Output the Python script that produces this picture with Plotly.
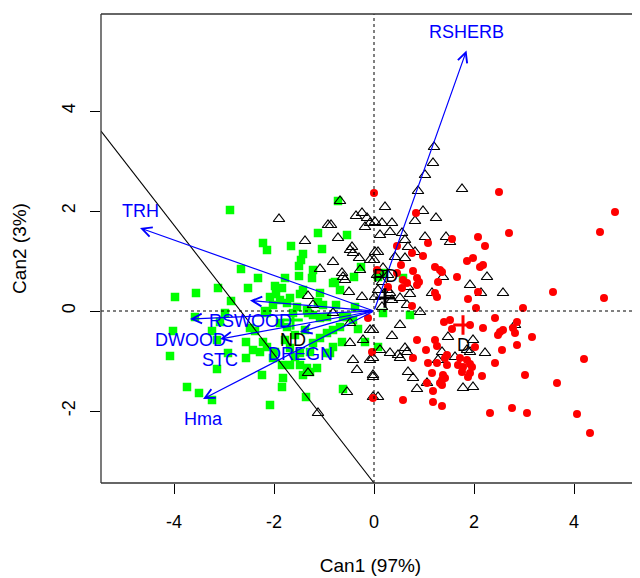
import plotly.graph_objects as go

# ---------------- data (canonical scores) ----------------
nd_x = [-2.88, -0.72, -1.12, -0.54, -2.22, -2.14, -1.66, -1.04, -2.66, -2.32, -3.12, -3.56, -3.98, -2.52,
        -2.86, -2.98, -3.58, -2.18, -1.42, -1.46, -1.50, -1.22, -1.50, -1.78, -1.24, -1.98, -1.84, -1.96,
        -0.78, -0.40, -0.26, -1.42, -1.48, -1.08, -0.68, -1.68, -2.08, -2.02, -1.12, -1.02, -0.76, -0.38,
        -2.14, -1.62, -1.32, -0.94, -0.62, -4.02, -4.08, -3.24, -3.14, -2.92, -3.14, -3.74, -3.50, -3.24,
        -2.56, -2.56, -2.42, -2.28, -2.48, -2.38, -2.22, -1.98, -2.02, -2.24, -1.84, -1.68, -1.82, -1.84,
        -2.08, -1.48, -1.34, -1.42, -1.36, -0.62, -0.94, -0.82, -0.64, -0.32, -0.18, 0.08, -0.82, -1.74,
        -1.88, -2.14, -1.22, -1.08, -0.94, -0.82, -0.68, -1.48, -1.88, -1.74, -1.54, -1.34, -1.22, -1.08,
        -0.54, -0.42, -1.14, -1.28, -1.68, 0.18, 0.08, 0.58, 0.18, 0.72, -3.08, -0.88, -1.58, -1.38,
        -1.78, -1.28, -1.58]
nd_y = [2.02, 2.20, 1.56, 1.52, 1.36, 1.22, 1.30, 1.24, 0.84, 0.66, 0.46, 0.36, 0.28, 0.46,
        0.20, -0.04, -0.12, 0.00, 1.14, 1.02, 0.90, 0.82, 0.70, 0.66, 0.66, 0.50, 0.46, 0.34,
        0.58, 0.68, 0.88, 0.42, 0.34, 0.36, 0.42, 0.26, 0.28, 0.12, 0.18, 0.12, 0.12, 0.08,
        -0.04, -0.04, -0.04, -0.12, -0.12, -0.40, -0.90, -0.40, -0.58, -0.84, -1.16, -1.52, -1.64, -1.78,
        -0.62, -0.94, -0.78, -0.82, -0.34, -0.40, -0.62, -0.82, -0.94, -1.28, -1.08, -1.08, -1.34, -1.52,
        -1.88, -1.08, -1.14, -1.28, -1.72, -1.56, -0.84, -0.72, -0.62, -0.36, -0.62, -0.72, 0.56, -0.32,
        -0.24, -0.72, -0.64, -0.54, -0.44, -0.38, -0.32, -0.84, 0.22, 0.16, 0.08, 0.02, -0.08, -0.14,
        -0.12, -0.18, -1.14, -1.22, -0.74, 0.76, 0.68, 0.66, -0.04, -0.08, -0.22, -0.84, -0.48, -0.38,
        -0.58, -0.82, -0.92]

pd_x = [-1.90, -1.38, -0.92, -0.86, -0.72, -0.68, -0.44, -0.36, -0.24, -0.18, -0.14, -0.08, 0.02, -0.48,
        -0.42, -0.30, -0.08, 0.02, -0.82, -1.08, -0.64, -0.62, -0.58, -0.28, -0.50, -0.24, -1.32, -1.22,
        -1.32, -0.54, -1.12, -0.48, -0.22, -0.08, -0.42, -0.34, -0.08, -0.02, -0.48, -0.82, 1.20, 1.18,
        1.02, 0.88, 1.76, 0.22, 0.98, 1.24, 0.82, 0.16, 0.36, 0.12, 0.32, 0.56, 1.02, 1.44, 1.52, 0.62,
        0.68, 0.82, 0.08, 0.42, 0.62, 0.00, 0.18, 0.06, 0.28, 0.16, 0.08, 0.02, 0.26, 0.32, 0.36, 0.52,
        0.66, 0.92, 0.72, 0.68, 1.38, 1.16, 1.92, 2.14, 2.26, 2.58, 0.16, -0.02, 0.52, 0.36, 0.12, 0.32,
        0.48, 0.52, 0.62, 0.66, 1.48, 1.98, 2.22, 1.86, 1.92, 1.36, 1.28, 1.62, 0.68, 0.78, 0.86, 1.06,
        1.78, 1.98, 2.82, -0.02, -0.02, -0.02, 0.08]
pd_y = [1.84, 1.40, 1.72, 1.72, 1.46, 2.20, 1.28, 1.90, 1.96, 1.68, 1.86, 1.76, 1.78, 1.22,
        1.16, 1.06, 1.02, 1.18, 0.98, 0.84, 0.76, 0.68, 0.62, 0.82, 0.38, 0.28, 0.30, 0.12,
        -1.24, -1.62, -2.04, -0.64, -0.58, -0.38, -0.98, -1.18, -0.98, -1.28, -0.24, -0.04, 3.28, 2.96,
        2.72, 2.40, 2.44, 2.08, 2.00, 1.86, 1.80, 1.76, 1.76, 1.52, 1.58, 1.56, 1.48, 1.48, 1.38, 1.42,
        1.28, 1.18, 1.18, 1.08, 1.06, 1.02, 0.86, 0.72, 0.72, 0.58, 0.42, 0.28, 0.42, 0.36, 0.22, 0.26,
        0.12, -0.02, 0.34, 0.48, 0.68, 0.36, 0.52, 0.36, 0.68, 0.36, 0.08, -0.38, -0.28, -0.50, -0.78, -0.84,
        -0.88, -0.94, -0.74, -0.82, -0.52, -0.58, -0.84, -0.78, -0.82, -0.82, -0.98, -0.92, -1.22, -1.34, -1.56, -1.44,
        -1.54, -1.52, -0.28, -0.94, -1.32, -1.72, -1.72]

d_x = [0.00, 2.50, 4.82, 4.52, 2.70, 2.08, 2.22, 1.08, 1.56, 0.84, 0.46, 0.76, 0.98, 1.86,
       1.98, 2.12, 2.18, 0.54, 1.22, 1.32, 1.36, 0.78, 1.66, 0.86, 0.90, 0.86, 1.28, 0.58,
       0.66, 0.46, 0.56, 1.22, 1.26, 2.08, 1.88, 0.76, 2.04, 2.42, 0.28, 2.98, 3.58, 4.60,
       1.40, 1.52, 1.56, 2.18, 1.92, 2.86, 2.78, 2.82, 2.48, 2.52, 2.58, 3.16, 0.86, 1.22,
       1.26, 1.04, 2.86, 2.56, 2.02, 1.46, 1.42, 0.78, 1.72, 1.86, 1.92, 1.96, 1.68, 1.78,
       1.76, 1.08, 1.26, 2.42, 1.46, 1.16, 1.38, 1.36, 1.32, 1.42, 1.36, 1.92, 2.16, 1.88,
       3.02, 4.20, 3.66, 1.06, 1.18, 0.58, 1.18, 1.36, 2.32, 2.76, 3.06, 4.06, 4.32, -0.02,
       -0.04, -0.12, 0.06]
d_y = [2.36, 2.38, 1.98, 1.58, 1.56, 1.48, 1.30, 1.36, 1.44, 1.96, 1.30, 1.16, 1.10, 1.00,
       1.06, 0.88, 0.92, 0.92, 0.88, 0.82, 0.78, 0.80, 0.68, 0.66, 0.58, 0.52, 0.58, 0.62,
       0.56, 0.76, 0.46, 0.36, 0.28, 0.38, 0.24, 0.10, 0.06, -0.14, 0.48, 0.06, 0.38, 0.26,
       -0.22, -0.18, -0.36, -0.34, -0.28, -0.22, -0.34, -0.44, -0.48, -0.42, -0.38, -0.52, -0.58, -0.58,
       -0.70, -0.78, -0.68, -0.78, -0.72, -0.88, -0.94, -0.94, -0.94, -0.98, -1.06, -1.12, -1.08, -1.12,
       -1.22, -1.04, -1.04, -1.04, -1.08, -1.24, -1.28, -1.38, -1.44, -1.34, -1.48, -1.24, -1.30, -1.32,
       -1.28, -0.96, -1.44, -1.44, -1.60, -1.78, -1.82, -1.90, -2.04, -1.94, -2.04, -2.06, -2.44, -1.74,
       -0.82, -0.14, 0.82]

# structure coefficients (variable vectors)
vec_names = ["TRH", "RSHERB", "RSWOOD", "DWOOD", "STC", "DREGN", "Hma"]
vec_x = [-4.68, 1.85, -2.48, -3.68, -3.08, -1.48, -3.42]
vec_y = [1.66, 5.21, 0.21, -0.16, -0.56, -0.42, -1.76]

# group centroids
group_names = ["ND", "PD", "D"]
cent_x = [-1.62, 0.22, 1.78]
cent_y = [-0.18, 0.26, -0.28]

# classification boundary
boundary_x = [-5.46, 0.0]
boundary_y = [3.60, -3.44]

x_ticks = [-4, -2, 0, 2, 4]
y_ticks = [-2, 0, 2, 4]
x_range = [-5.46, 5.32]
y_range = [-3.44, 5.94]

# ---------------- styles ----------------
FONT = "Liberation Sans, Arial, sans-serif"
GREEN = "#00FF00"
RED = "#FF0000"
BLUE = "#0000FF"
vec_label_shift = [17, 19, -20, -21, -21, -22, -20]
group_label_shift = [-20, 22, -20]
group_colors = [GREEN, "#000000", RED]

fig = go.Figure()

fig.add_trace(go.Scatter(x=nd_x, y=nd_y, mode="markers", name="ND",
                         marker=dict(symbol="square", size=8.5, color=GREEN, line=dict(width=0))))
fig.add_trace(go.Scatter(x=pd_x, y=pd_y, mode="markers", name="PD",
                         marker=dict(symbol="triangle-up-open", size=10, color="#000000",
                                     line=dict(width=1.2, color="#000000"))))
fig.add_trace(go.Scatter(x=d_x, y=d_y, mode="markers", name="D",
                         marker=dict(symbol="circle", size=8, color=RED, line=dict(width=0))))

# centroids
fig.add_trace(go.Scatter(x=cent_x, y=cent_y, mode="markers", name="centroids",
                         marker=dict(symbol="cross-thin-open", size=14, color=group_colors,
                                     line=dict(width=3, color=group_colors))))

# reference lines
fig.add_trace(go.Scatter(x=[0, 0], y=y_range, mode="lines",
                         line=dict(color="#000000", width=1, dash="dot")))
fig.add_trace(go.Scatter(x=x_range, y=[0, 0], mode="lines",
                         line=dict(color="#000000", width=1, dash="dot")))
fig.add_trace(go.Scatter(x=boundary_x, y=boundary_y, mode="lines",
                         line=dict(color="#000000", width=1.1)))

annotations = []
for name, vx, vy, sh in zip(vec_names, vec_x, vec_y, vec_label_shift):
    annotations.append(dict(x=vx, y=vy, ax=0, ay=0, xref="x", yref="y", axref="x", ayref="y",
                            text="", showarrow=True, arrowhead=5, arrowsize=1.6, arrowwidth=1.2,
                            arrowcolor=BLUE))
    annotations.append(dict(x=vx, y=vy, xref="x", yref="y", text=name, showarrow=False,
                            yshift=sh, font=dict(family=FONT, size=18, color=BLUE)))
for name, gx, gy, sh in zip(group_names, cent_x, cent_y, group_label_shift):
    annotations.append(dict(x=gx, y=gy, xref="x", yref="y", text=name, showarrow=False,
                            yshift=sh, font=dict(family=FONT, size=18, color="#000000")))

frame = dict(type="line", xref="paper", yref="paper", line=dict(color="#333333", width=1.3))
shapes = [dict(frame, x0=0, x1=0, y0=0, y1=1),
          dict(frame, x0=0, x1=1, y0=1, y1=1),
          dict(frame, x0=0, x1=1, y0=0, y1=0)]

# the page body adds an 8px offset, so the figure is sized 8px smaller on each side
fig.update_layout(
    width=632, height=570,
    margin=dict(l=93, r=0, t=6, b=95),
    paper_bgcolor="white", plot_bgcolor="white",
    showlegend=False,
    font=dict(family=FONT, size=18, color="#000000"),
    annotations=annotations,
    shapes=shapes,
    xaxis=dict(range=x_range, tickvals=x_ticks, ticktext=[str(v) for v in x_ticks],
               ticks="outside", ticklen=10, tickwidth=1,
               tickcolor="#000000", showgrid=False, zeroline=False, showline=False,
               ticklabelstandoff=12, tickfont=dict(size=18), automargin=False,
               title=dict(text="Can1 (97%)", font=dict(size=19), standoff=28)),
    yaxis=dict(range=y_range, tickvals=y_ticks, ticktext=[str(v) for v in y_ticks],
               ticks="outside", ticklen=10, tickwidth=1,
               tickcolor="#000000", showgrid=False, zeroline=False, showline=False,
               tickangle=-90, ticklabelstandoff=8, tickfont=dict(size=18), automargin=False,
               title=dict(text="Can2 (3%)", font=dict(size=19), standoff=27)),
)

fig.write_html("out.html")
